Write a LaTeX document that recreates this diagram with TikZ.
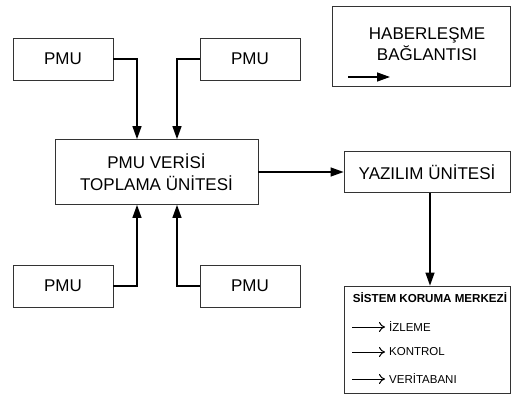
\documentclass[tikz,border=0pt]{standalone}
\usepackage{fontspec}
\setmainfont{Liberation Sans}
\usetikzlibrary{arrows.meta}

\begin{document}
\begin{tikzpicture}[x=1pt,y=-1pt]
\definecolor{boxline}{rgb}{0.2,0.2,0.2}
\tikzset{
  box/.style={draw=boxline, line width=0.8pt, rectangle, align=center, inner sep=0pt,
    font=\fontsize{17}{22}\selectfont},
  pmu/.style={box, minimum width=100pt, minimum height=42pt},
  link/.style={draw, line width=1.3pt, -{Triangle[length=13pt,width=9pt]}},
  item/.style={anchor=west, inner sep=0pt, font=\fontsize{11.5}{13}\selectfont},
  small/.style={draw, line width=1pt, -{To[length=6pt,width=10pt]}}
}
\useasboundingbox (0,0) rectangle (512,394);

\node[pmu] (1) at (63,59) {PMU};
\node[pmu] (2) at (250,59) {PMU};
\node[pmu] (3) at (63,286) {PMU};
\node[pmu] (4) at (250,286) {PMU};
\node[box, minimum width=203pt, minimum height=65pt] (c) at (156.5,172) {PMU VERİSİ\\TOPLAMA ÜNİTESİ};
\node[box, minimum width=166pt, minimum height=41pt] (y) at (427,172) {YAZILIM ÜNİTESİ};

% legend
\node[box, minimum width=178pt, minimum height=80pt] (leg) at (421,46) {};
\node[align=center, inner sep=0pt, font=\fontsize{17}{21}\selectfont] (legtxt) at (427,44) {HABERLEŞME\\BAĞLANTISI};
\coordinate (l1) at (348,77);
\coordinate (l2) at (390,77);
\path[link] (l1) -- (l2);

% system box
\node[box, minimum width=166pt, minimum height=107pt] (s) at (427,339.5) {};
\node[inner sep=0pt, font=\bfseries\fontsize{11.6}{13}\selectfont] (t) at (430,298) {SİSTEM KORUMA MERKEZİ};
\node[item] (i1) at (389,327) {İZLEME};
\node[item] (i2) at (389,352) {KONTROL};
\node[item] (i3) at (389,379) {VERİTABANI};
\coordinate (a1) at (352,327);
\coordinate (a2) at (352,352);
\coordinate (a3) at (352,379);
\path[small] (a1) -- ([xshift=-4pt]i1.west);
\path[small] (a2) -- ([xshift=-4pt]i2.west);
\path[small] (a3) -- ([xshift=-4pt]i3.west);

\path[link] (1.east) -| ([xshift=-19.5pt]c.north);
\path[link] (2.west) -| ([xshift=20.5pt]c.north);
\path[link] (3.east) -| ([xshift=-19.5pt]c.south);
\path[link] (4.west) -| ([xshift=20.5pt]c.south);
\path[link] (c.east) -- (y.west);
\path[link] ([xshift=3pt]y.south) -- ([xshift=3pt]s.north);
\end{tikzpicture}
\end{document}
